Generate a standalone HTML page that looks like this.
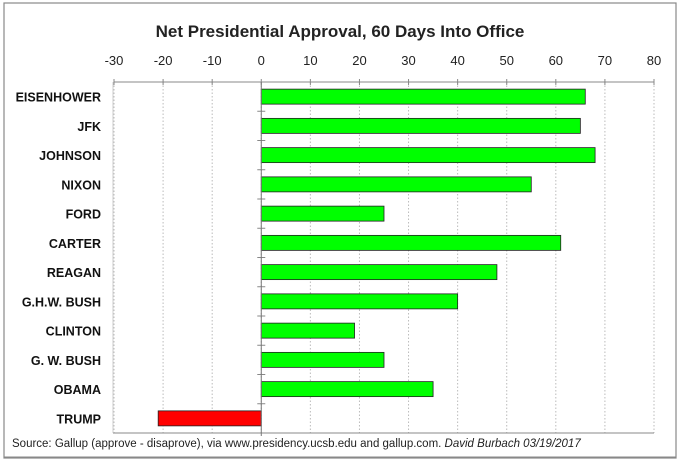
<!DOCTYPE html>
<html><head><meta charset="utf-8"><style>
body{margin:0;background:#fff;}
svg{display:block;font-family:"Liberation Sans",Arial,sans-serif;}
</style></head><body>
<svg id="c" width="680" height="462">
<rect x="4" y="3" width="672" height="455" fill="#fff" stroke="#888" stroke-width="1.2"/>
<text x="340" y="37" text-anchor="middle" font-size="17" font-weight="bold" fill="#222">Net Presidential Approval, 60 Days Into Office</text>
<g id="plot"></g>
<text x="12" y="447" font-size="11.5" fill="#222">Source:  Gallup (approve - disaprove), via www.presidency.ucsb.edu and gallup.com.  <tspan font-style="italic">David Burbach 03/19/2017</tspan></text>
</svg>
<script>
const categories=["EISENHOWER","JFK","JOHNSON","NIXON","FORD","CARTER","REAGAN","G.H.W. BUSH","CLINTON","G. W. BUSH","OBAMA","TRUMP"];
const values=[66,65,68,55,25,61,48,40,19,25,35,-21];
const ticks=[-30,-20,-10,0,10,20,30,40,50,60,70,80];
const NS="http://www.w3.org/2000/svg";
const g=document.getElementById('plot');
const x0=114,x1=654,yTop=82,yBot=433;
const xs=v=>x0+(v-(-30))*(x1-x0)/110;
const rowH=(yBot-yTop)/categories.length;
const yc=i=>yTop+rowH*(i+0.5);
function mk(t,a){const e=document.createElementNS(NS,t);for(const k in a)e.setAttribute(k,a[k]);g.appendChild(e);return e;}
ticks.forEach(t=>{
 const gl=mk('line',{x1:xs(t),x2:xs(t),y1:yTop,y2:yBot,stroke:'#bbb','stroke-dasharray':'1.5,2'});
 
 
 const tm=mk('line',{x1:xs(t),x2:xs(t),y1:yTop-3,y2:yTop+3,stroke:'#888'});
 
 
 const tl=mk('text',{x:xs(t),y:65,'text-anchor':'middle','font-size':13,fill:'#222'});
 tl.textContent=t;
 
 
});
const ax=mk('line',{x1:x0,x2:x1,y1:yTop,y2:yTop,stroke:'#888'});


const bl=mk('line',{x1:x0-1,x2:x1,y1:yBot,y2:yBot,stroke:'#888'});


const lb=mk('line',{x1:x0-1,x2:x0-1,y1:yTop,y2:yBot,stroke:'#ccc'});


categories.forEach((c,i)=>{
 const v=values[i];
 const bx=Math.min(xs(0),xs(v)),bw=Math.abs(xs(v)-xs(0));
 const r=mk('rect',{x:bx,y:yc(i)-7.5,width:bw,height:15,fill:v<0?'#ff0000':'#00ff00',stroke:'#222','stroke-width':0.8});
 
 
 const t=mk('text',{x:101,y:yc(i)+5,'text-anchor':'end','font-size':12.5,'font-weight':'bold',fill:'#111'});
 t.textContent=c;
 
 
 const tk=mk('line',{x1:xs(0)-4,x2:xs(0)+4,y1:yTop+rowH*(i+1),y2:yTop+rowH*(i+1),stroke:'#888'});
 
 
});
const yax=mk('line',{x1:xs(0),x2:xs(0),y1:yTop,y2:yBot+3,stroke:'#777'});


const rule=mk('line',{x1:4,x2:676,y1:457,y2:457,stroke:'#888'});


</script>
</body></html>
